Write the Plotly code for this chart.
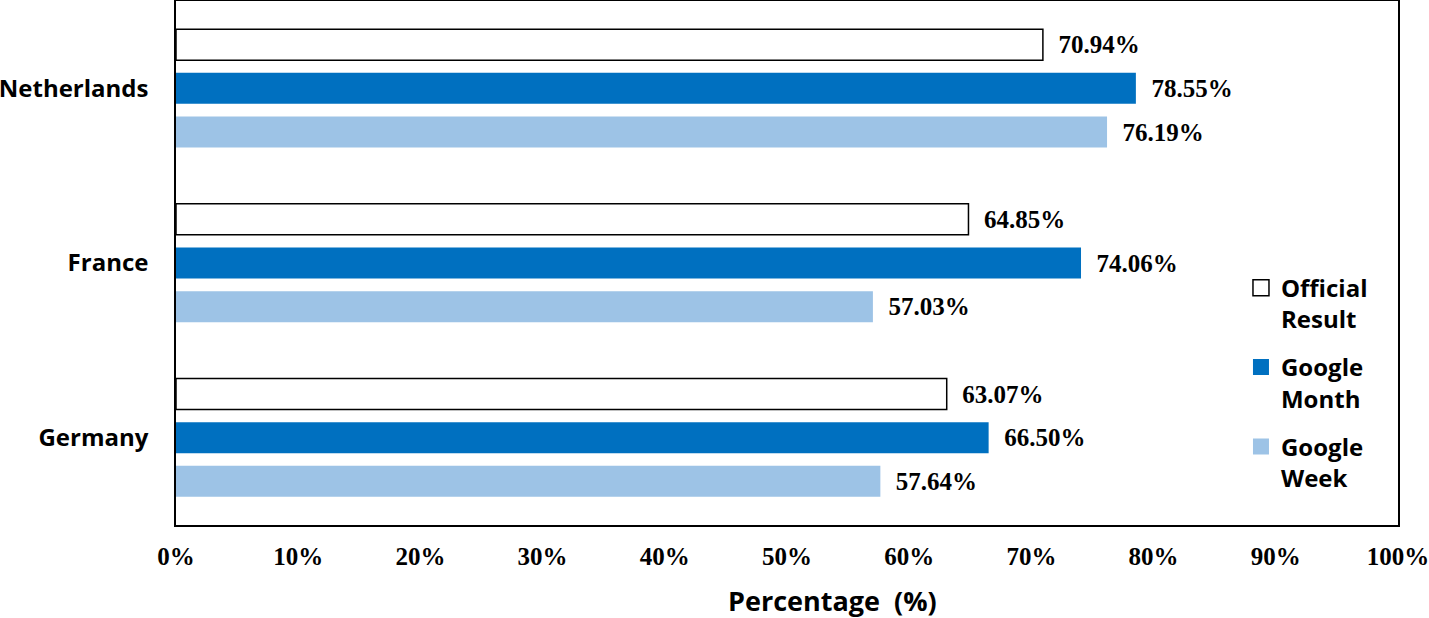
import plotly.graph_objects as go

countries = ["Netherlands", "France", "Germany"]
official = [70.94, 64.85, 63.07]
google_month = [78.55, 74.06, 66.50]
google_week = [76.19, 57.03, 57.64]
series_names = ["Official<br>Result", "Google<br>Month", "Google<br>Week"]
tick_vals = [0, 10, 20, 30, 40, 50, 60, 70, 80, 90, 100]
tick_text = [f"{v}%" for v in tick_vals]

fills = ["white", "#0070C0", "#9DC3E6"]
lines = ["black", "#0070C0", "#9DC3E6"]

fig = go.Figure()
for i, (name, vals, fc, lc) in enumerate(zip(series_names, [official, google_month, google_week], fills, lines)):
    fig.add_trace(go.Bar(
        y=countries, x=vals, orientation="h", name=name, showlegend=False,
        marker=dict(color=fc, line=dict(color=lc, width=1.5 if lc == "black" else 0)),
        text=[f"  {v:.2f}%" for v in vals], textposition="outside",
        textfont=dict(family="Liberation Serif", size=25, color="black", weight="bold"),
        cliponaxis=False,
    ))
# legend proxies (larger square symbols)
for i, (name, fc, lc) in enumerate(zip(series_names, fills, lines)):
    fig.add_trace(go.Scatter(
        x=[None], y=[None], mode="markers", name=name, legendgroup=f"g{i}",
        marker=dict(symbol="square", size=17, color=fc,
                    line=dict(color=lc, width=1.5 if lc == "black" else 0)),
    ))

fig.update_layout(
    width=1429, height=618,
    margin=dict(l=176, r=31, t=1, b=93),
    paper_bgcolor="white", plot_bgcolor="white",
    barmode="group", bargap=0.25, bargroupgap=0.29,
    showlegend=True,
    legend=dict(x=0.8715, y=0.495, xanchor="left", yanchor="top", valign="top",
                font=dict(family="Open Sans", size=24, color="black", weight="bold"),
                bgcolor="rgba(0,0,0,0)", tracegroupgap=14, itemwidth=30),
    xaxis=dict(range=[0, 100], tickvals=tick_vals, ticktext=tick_text, automargin=False,
               showgrid=False, zeroline=False, showline=True, mirror=True,
               linecolor="black", linewidth=1.5, ticks="", ticklabelstandoff=8,
               ticklabeloverflow="allow",
               tickfont=dict(family="Liberation Serif", size=25, color="black", weight="bold")),
    yaxis=dict(autorange="reversed", showgrid=False, showline=True, mirror=True, automargin=False,
               linecolor="black", linewidth=1.5, ticks="", ticklabelstandoff=21,
               tickfont=dict(family="Open Sans", size=24, color="black", weight="bold")),
    annotations=[dict(text="Percentage  (%)", xref="paper", yref="paper",
                      x=0.537, y=-0.144, xanchor="center", yanchor="middle", showarrow=False,
                      font=dict(family="Open Sans", size=27, color="black", weight="bold"))],
)

fig.write_html("out.html", config={"displayModeBar": False},
               post_script="document.body.style.margin='0';document.body.style.overflow='hidden';")
